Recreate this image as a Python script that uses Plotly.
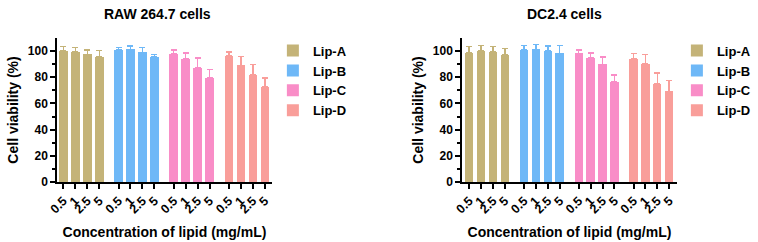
import plotly.graph_objects as go

groups = ["Lip-A", "Lip-B", "Lip-C", "Lip-D"]
concentrations = ["0.5", "1", "2.5", "5"]
colors = ["#C4B378", "#6EB8F7", "#F98DC7", "#F99E9A"]

raw_means = {
    "Lip-A": [100.0, 99.5, 97.5, 95.4],
    "Lip-B": [100.8, 101.3, 99.0, 95.4],
    "Lip-C": [98.0, 94.1, 87.2, 79.6],
    "Lip-D": [96.2, 89.0, 81.6, 72.7],
}
raw_err = {
    "Lip-A": [3.4, 3.3, 3.3, 4.9],
    "Lip-B": [1.8, 2.5, 3.6, 2.1],
    "Lip-C": [2.8, 4.6, 7.7, 6.4],
    "Lip-D": [3.0, 6.7, 8.2, 6.9],
}
dc_means = {
    "Lip-A": [98.7, 100.0, 99.5, 96.9],
    "Lip-B": [101.0, 101.3, 100.0, 98.2],
    "Lip-C": [98.2, 94.9, 89.8, 76.5],
    "Lip-D": [94.1, 90.3, 75.2, 69.3],
}
dc_err = {
    "Lip-A": [4.7, 4.1, 3.9, 4.9],
    "Lip-B": [3.4, 3.8, 3.8, 6.2],
    "Lip-C": [2.6, 3.8, 5.6, 5.1],
    "Lip-D": [3.9, 7.2, 8.2, 8.4],
}

GROUP_STEP = 4.6
FONT = "Liberation Sans, Arial, sans-serif"

fig = go.Figure()

def add_panel(means, errs, xa, ya, legend_name):
    for g, (name, col) in enumerate(zip(groups, colors)):
        xs = [g * GROUP_STEP + i for i in range(len(concentrations))]
        fig.add_trace(go.Bar(
            x=xs, y=means[name], name=name,
            marker=dict(color=col, line=dict(width=0)),
            width=0.7,
            error_y=dict(type="data", array=errs[name], arrayminus=[0] * 4,
                         symmetric=False, color=col, thickness=1.5, width=3),
            xaxis=xa, yaxis=ya, legend=legend_name,
        ))

add_panel(raw_means, raw_err, "x", "y", "legend")
add_panel(dc_means, dc_err, "x2", "y2", "legend2")

tickvals = [g * GROUP_STEP + i for g in range(4) for i in range(4)]
ticktext = concentrations * 4

def xaxis(domain, rng, anchor):
    return dict(
        domain=domain, range=rng, anchor=anchor, automargin=False,
        tickmode="array", tickvals=tickvals, ticktext=ticktext,
        tickangle=-45, ticks="outside", ticklen=5, tickwidth=1.5, tickcolor="black",
        showline=True, linecolor="black", linewidth=1.5, showgrid=False, zeroline=False,
        tickfont=dict(family=FONT, size=12.5, color="black", weight="bold"),
        title=dict(text="Concentration of lipid (mg/mL)", standoff=12,
                   font=dict(family=FONT, size=14, color="black", weight="bold")),
    )

def yaxis(anchor):
    return dict(
        domain=[0.248, 0.843], range=[0, 110], anchor=anchor, automargin=False,
        tickvals=[0, 20, 40, 60, 80, 100], ticks="outside", ticklen=5, tickwidth=1.5,
        tickcolor="black",
        minor=dict(tickvals=[10, 30, 50, 70, 90], ticks="outside", ticklen=3,
                   tickwidth=1.5, tickcolor="black"),
        showline=True, linecolor="black", linewidth=1.5, showgrid=False, zeroline=False,
        tickfont=dict(family=FONT, size=12, color="black", weight="bold"),
        title=dict(text="Cell viability (%)", standoff=6,
                   font=dict(family=FONT, size=14, color="black", weight="bold")),
    )

legend_common = dict(
    yanchor="top", y=0.853,
    font=dict(family=FONT, size=13, color="black", weight="bold"),
    bgcolor="rgba(0,0,0,0)", tracegroupgap=0,
)

fig.update_layout(
    width=758, height=242,
    margin=dict(l=0, r=0, t=0, b=0, autoexpand=False),
    paper_bgcolor="white", plot_bgcolor="white",
    showlegend=True, barmode="overlay", bargap=0,
    xaxis=xaxis([0.0752, 0.3588], [-0.53, 17.4], "y"),
    yaxis=yaxis("x"),
    xaxis2=xaxis([0.6095, 0.8931], [-0.6, 17.45], "y2"),
    yaxis2=yaxis("x2"),
    legend=dict(x=0.360, xanchor="left", **legend_common),
    legend2=dict(x=0.893, xanchor="left", **legend_common),
    annotations=[
        dict(text="RAW 264.7 cells", x=157 / 758, y=1 - 14 / 242, xref="paper", yref="paper",
             showarrow=False, xanchor="center", yanchor="middle",
             font=dict(family=FONT, size=14, color="black", weight="bold")),
        dict(text="DC2.4 cells", x=564 / 758, y=1 - 14 / 242, xref="paper", yref="paper",
             showarrow=False, xanchor="center", yanchor="middle",
             font=dict(family=FONT, size=14, color="black", weight="bold")),
    ],
)

fig.write_html("out.html", config={"displayModeBar": False},
               post_script="document.body.style.margin='0';")
